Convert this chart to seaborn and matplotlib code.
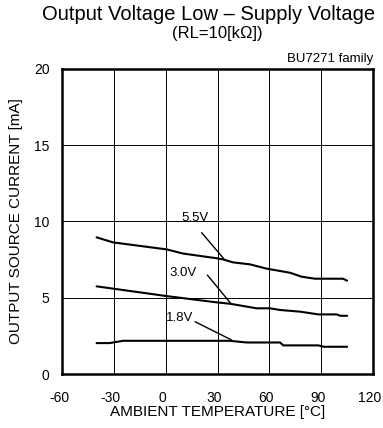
import numpy as np
import pandas as pd
import matplotlib
matplotlib.use("Agg")
import matplotlib.pyplot as plt
import matplotlib.transforms as mtransforms
import seaborn as sns

sns.set_theme(style="white")
plt.rcParams['font.family'] = ['Liberation Sans', 'DejaVu Sans']
plt.rcParams['axes.unicode_minus'] = False
plt.rcParams['text.color'] = 'black'
plt.rcParams['axes.labelcolor'] = 'black'

temp_55 = [-40, -30.5, 0.6, 10, 29.5, 33, 39, 48.8, 58.4, 72, 78.7, 86.4, 102.6, 105]
cur_55 = [8.96, 8.63, 8.17, 7.9, 7.59, 7.52, 7.32, 7.19, 6.91, 6.64, 6.38, 6.25, 6.25, 6.12]
temp_30 = [-40, 0.6, 29.5, 37.2, 52.6, 60.4, 66.2, 77.8, 88.4, 99, 101, 105]
cur_30 = [5.75, 5.11, 4.70, 4.61, 4.31, 4.31, 4.20, 4.09, 3.91, 3.91, 3.82, 3.82]
temp_18 = [-40, -32.5, -24.7, 29.5, 37, 46.9, 66.2, 68, 88.4, 91.3, 105]
cur_18 = [2.03, 2.03, 2.18, 2.18, 2.18, 2.07, 2.07, 1.88, 1.88, 1.79, 1.79]
series_names = ["5.5V", "3.0V", "1.8V"]

xticks = [-60, -30, 0, 30, 60, 90, 120]
yticks = [0, 5, 10, 15, 20]

df = pd.concat([
    pd.DataFrame({"temp": temp_55, "cur": cur_55, "vdd": series_names[0]}),
    pd.DataFrame({"temp": temp_30, "cur": cur_30, "vdd": series_names[1]}),
    pd.DataFrame({"temp": temp_18, "cur": cur_18, "vdd": series_names[2]}),
])

fig = plt.figure(figsize=(3.83, 4.28), dpi=100)
ax = fig.add_axes([0.162, 0.126, 0.812, 0.713])
sns.lineplot(data=df, x="temp", y="cur", hue="vdd", units="vdd", estimator=None,
             palette=["black"] * 3, linewidth=1.5, legend=False, sort=False, ax=ax)

ax.set_xlim(-60, 120)
ax.set_ylim(0, 20)
ax.set_xticks(xticks)
ax.set_yticks(yticks)
ax.grid(True, color="black", linewidth=0.7)
for s in ax.spines.values():
    s.set_color("black")
    s.set_linewidth(1.8)
ax.tick_params(direction="in", length=4, width=1, colors="black", labelsize=10)
ax.tick_params(axis="x", pad=12)
ax.tick_params(axis="y", pad=9)
shift = mtransforms.ScaledTranslation(-3 / 100, 0, fig.dpi_scale_trans)
for lbl in ax.get_xticklabels():
    lbl.set_transform(lbl.get_transform() + shift)
ax.set_xlabel("AMBIENT TEMPERATURE [\u00b0C]", fontsize=11, labelpad=0)
ax.set_ylabel("OUTPUT SOURCE CURRENT [mA]", fontsize=11, labelpad=8)

# labels with leader lines
labels = [("5.5V", (17, 10.2), (20.8, 9.27), (33.9, 7.52)),
          ("3.0V", (10, 6.62), (24.1, 6.49), (37.6, 4.64)),
          ("1.8V", (8.3, 3.67), (17.0, 3.43), (38.2, 2.23))]
for txt, tpos, p0, p1 in labels:
    ax.text(tpos[0], tpos[1], txt, fontsize=9.5, ha="center", va="center", color="black")
    ax.plot([p0[0], p1[0]], [p0[1], p1[1]], color="black", lw=1)

ax.text(1.0, 1.012, "BU7271 family", transform=ax.transAxes, ha="right", va="bottom", fontsize=9.5)
fig.text(0.545, 0.967, "Output Voltage Low \u2013 Supply Voltage", ha="center", va="center", fontsize=14.5)
fig.text(0.567, 0.922, "(RL=10[k\u03a9])", ha="center", va="center", fontsize=12)

fig.savefig("out.png", dpi=100)
